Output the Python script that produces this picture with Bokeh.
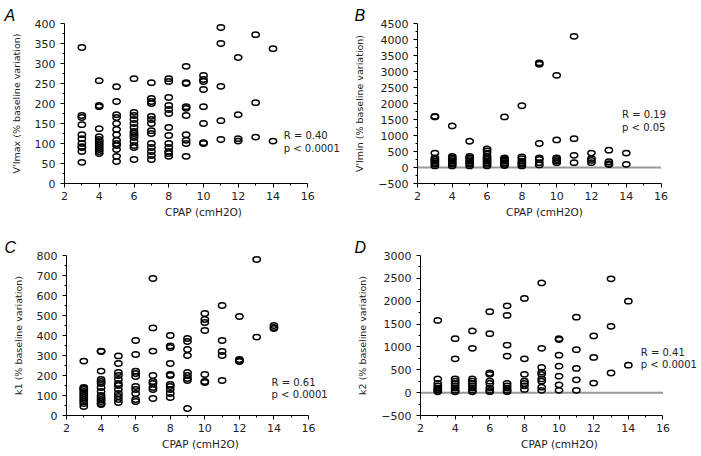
from bokeh.plotting import figure
from bokeh.layouts import column, row
from bokeh.models import Range1d, FixedTicker, Label
from bokeh.embed import file_html
from bokeh.resources import INLINE

# ---------------- data ----------------
A_vals = {
    3: [340, 170, 165, 147, 122, 112, 100, 92, 90, 80, 53],
    4: [257, 195, 192, 137, 117, 110, 105, 100, 95, 90, 85, 80, 75],
    5: [242, 205, 172, 165, 150, 135, 122, 108, 100, 95, 85, 68, 55],
    6: [262, 178, 170, 160, 150, 140, 130, 125, 120, 115, 105, 95, 90, 60],
    7: [252, 213, 205, 200, 168, 160, 150, 132, 125, 100, 90, 80, 70, 60],
    8: [262, 255, 215, 195, 185, 175, 140, 120, 100, 90, 80, 75, 68],
    9: [293, 252, 250, 192, 188, 170, 122, 108, 100, 68],
    10: [270, 260, 255, 235, 192, 150, 102, 100],
    11: [390, 350, 243, 157, 110],
    12: [315, 172, 112, 106],
    13: [372, 202, 116],
    14: [337, 106],
}
B_vals = {
    3: [1600, 1580, 450, 300, 250, 200, 150, 100, 50],
    4: [1300, 350, 300, 250, 200, 150, 100, 50],
    5: [820, 350, 300, 250, 200, 150, 100, 50],
    6: [580, 520, 450, 350, 300, 250, 200, 150, 100, 50],
    7: [1580, 300, 270, 240, 200, 150, 100, 60],
    8: [1930, 330, 280, 200, 150, 100, 50],
    9: [3270, 3230, 750, 300, 250, 150, 80],
    10: [2880, 860, 300, 250, 200, 150],
    11: [4100, 900, 380, 150],
    12: [450, 280, 220, 150],
    13: [540, 180, 120, 90],
    14: [450, 100],
}
C_vals = {
    3: [272, 140, 135, 130, 120, 110, 100, 90, 80, 70, 60, 45],
    4: [322, 320, 222, 180, 170, 160, 140, 120, 100, 90, 80, 70, 60, 55],
    5: [298, 260, 215, 200, 180, 160, 150, 130, 110, 95, 80, 65],
    6: [375, 305, 222, 210, 195, 145, 130, 110, 80, 70],
    7: [685, 438, 322, 200, 170, 160, 140, 130, 85],
    8: [400, 348, 340, 260, 205, 200, 155, 145, 130, 110, 90],
    9: [385, 370, 330, 300, 215, 200, 185, 175, 35],
    10: [510, 480, 465, 425, 205, 170, 165],
    11: [550, 375, 320, 300, 175],
    12: [495, 280, 275, 270],
    13: [780, 392],
    14: [450, 440, 435],
}
D_vals = {
    3: [1580, 300, 200, 150, 100, 70, 50, 20],
    4: [1180, 740, 300, 250, 200, 150, 100, 50, 20],
    5: [1350, 970, 300, 250, 200, 150, 100, 50, 20],
    6: [1770, 1290, 430, 400, 250, 200, 100, 50, 20],
    7: [1900, 1690, 1040, 800, 200, 150, 100, 50, 20],
    8: [2060, 740, 400, 250, 200, 150, 70],
    9: [2400, 970, 550, 450, 400, 300, 250, 120, 50],
    10: [1180, 1160, 820, 580, 360, 170, 50],
    11: [1650, 940, 530, 280, 50],
    12: [1240, 770, 210],
    13: [2490, 1450, 430],
    14: [2000, 600],
}

panel_letters = ["A", "B", "C", "D"]
y_labels = ["V'Imax (% baseline variation)", "V'Imin (% baseline variation)",
            "k1 (% baseline variation)", "k2 (% baseline variation)"]
x_label = "CPAP (cmH2O)"
x_axis_span = (2, 16)
x_major = [2, 4, 6, 8, 10, 12, 14, 16]
x_minor = [3, 5, 7, 9, 11, 13, 15]
stats_R = ["R = 0.40", "R = 0.19", "R = 0.61", "R = 0.41"]
stats_p = ["p < 0.0001", "p < 0.05", "p < 0.0001", "p < 0.0001"]

FONT = "DejaVu Sans"


def flatten(d):
    xs, ys = [], []
    for k, vs in d.items():
        for v in vs:
            xs.append(k)
            ys.append(v)
    return xs, ys


def make_panel(idx, vals, yr, ymaj, ymin_step, zero_line, stat_pos,
               left, top, ppu, xmax, fh, width, height):
    x0, x1 = x_axis_span
    fw = int(round(ppu * (xmax - x0)))
    p = figure(width=width, height=height, output_backend="svg",
               toolbar_location=None,
               x_range=Range1d(x0, xmax), y_range=Range1d(*yr),
               min_border_left=left, min_border_top=top,
               min_border_right=width - left - fw,
               min_border_bottom=height - top - fh)
    p.frame_width = fw
    p.frame_height = fh
    p.outline_line_color = None
    p.xgrid.visible = False
    p.ygrid.visible = False

    p.title.text = panel_letters[idx]
    p.title.text_font = "Liberation Sans"
    p.title.text_font_style = "italic"
    p.title.text_font_size = "16px"
    p.title.text_color = "black"
    p.title.align = "left"
    p.title.offset = -left + 4
    p.title.standoff = 0

    if zero_line:
        p.segment(x0=[x0], y0=[0], x1=[x1], y1=[0], line_color="#999999",
                  line_width=2)

    xs, ys = flatten(vals)
    p.ellipse(x=xs, y=ys, width=7.3, height=5.3, width_units="screen",
              height_units="screen", fill_color=None, line_color="black",
              line_width=1.5)

    for ax in (p.xaxis[0], p.yaxis[0]):
        ax.axis_line_color = "black"
        ax.axis_line_width = 1
        ax.major_tick_line_color = "black"
        ax.minor_tick_line_color = "black"
        ax.major_tick_in = 0
        ax.major_tick_out = 4
        ax.minor_tick_in = 0
        ax.minor_tick_out = 2
        ax.major_label_text_font = FONT
        ax.major_label_text_font_size = "11px"
        ax.major_label_text_color = "#222222"
        ax.axis_label_text_font = FONT
        ax.axis_label_text_font_style = "normal"
        ax.axis_label_text_color = "#222222"

    p.xaxis.bounds = x_axis_span
    p.xaxis.ticker = FixedTicker(ticks=x_major, minor_ticks=x_minor)
    lo, hi = yr
    majors = []
    v = lo
    while v <= hi:
        majors.append(v)
        v += ymaj
    minors = []
    v = lo + ymin_step
    while v < hi:
        minors.append(v)
        v += ymaj
    p.yaxis.ticker = FixedTicker(ticks=majors, minor_ticks=minors)

    p.xaxis.axis_label = x_label
    p.xaxis.axis_label_text_font_size = "10.5px"
    p.xaxis.axis_label_standoff = 3
    p.xaxis.major_label_standoff = 4
    p.yaxis.axis_label = y_labels[idx]
    p.yaxis.axis_label_text_font_size = "9.5px"
    p.yaxis.axis_label_standoff = 10
    p.yaxis.major_label_standoff = 5

    sx, sy_r, sy_p = stat_pos
    for txt, yy in ((stats_R[idx], sy_r), (stats_p[idx], sy_p)):
        p.add_layout(Label(x=sx, y=yy, text=txt, text_font=FONT,
                           text_font_size="10px", text_color="#222222",
                           text_baseline="middle", text_align="left"))
    return p


pA = make_panel(0, A_vals, (0, 400), 50, 25, False, (14.62, 120, 88),
                64, 23, 17.36, 18.0, 160, 350, 228)
pB = make_panel(1, B_vals, (-500, 4500), 500, 250, True, (13.76, 1668, 1259),
                67, 23, 17.43, 16.6, 160, 351, 228)
pC = make_panel(2, C_vals, (0, 800), 100, 50, False, (13.86, 165, 105),
                66, 27, 17.29, 17.5, 160, 350, 228)
pD = make_panel(3, D_vals, (-500, 3000), 500, 250, True, (14.72, 889, 622),
                70, 27, 17.29, 18.05, 160, 351, 228)

layout = column(row(pA, pB), row(pC, pD))
open("out.html", "w").write(file_html(layout, INLINE))
